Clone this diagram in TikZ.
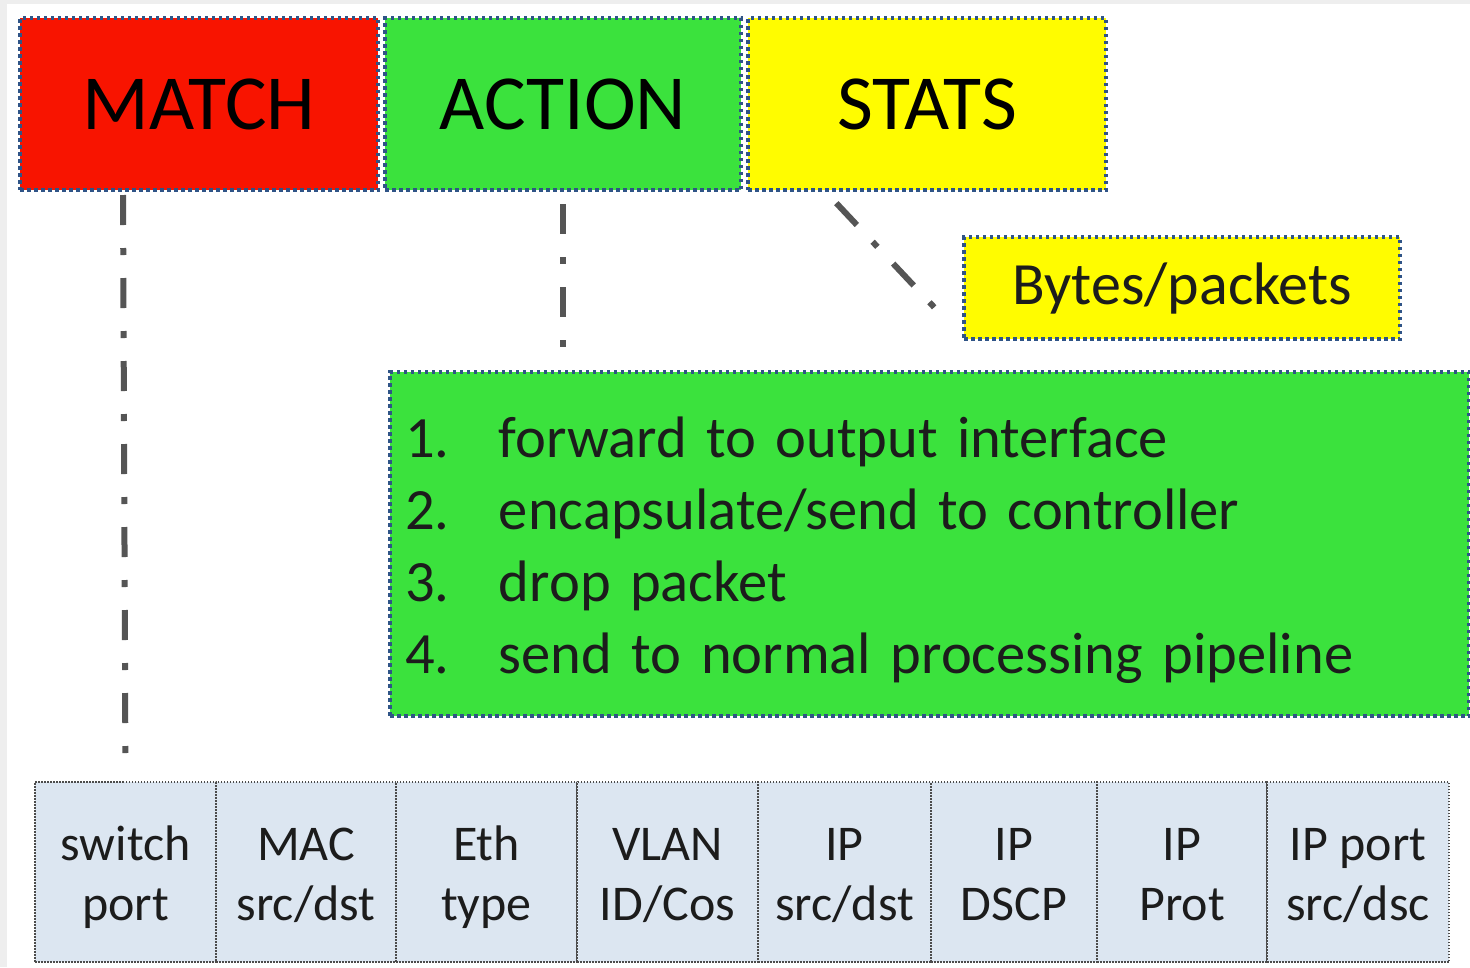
\documentclass[tikz,border=0pt]{standalone}
\usepackage{fontspec}
\setmainfont{Carlito}

\definecolor{matchred}{HTML}{F81400}
\definecolor{actgreen}{HTML}{3BE23D}
\definecolor{statyellow}{HTML}{FFFC00}
\definecolor{cellblue}{HTML}{DCE6F1}
\definecolor{edgeblue}{HTML}{2F5487}
\definecolor{linkgray}{HTML}{555555}
\definecolor{framegray}{HTML}{EEEEEE}
\definecolor{ink}{HTML}{1C1C1C}

% struts that fix the line boxes of the multi-line labels
\newcommand\cellstrut{\rule[-12pt]{0pt}{60pt}}
\newcommand\liststrut{\rule[-15pt]{0pt}{72pt}}

\tikzset{
  dotbox/.style={draw=edgeblue, line width=3.5pt, dash pattern=on 3.5pt off 3.5pt,
    inner sep=0pt, outer sep=0pt},
  headbox/.style={dotbox, minimum width=#1, minimum height=172pt,
    font=\fontsize{78}{90}\selectfont, text=black},
  cellbox/.style={draw=black!70, line width=1.5pt, dash pattern=on 1.5pt off 1.5pt,
    fill=cellblue, minimum width=#1, minimum height=180pt, inner sep=0pt,
    outer sep=0pt, align=center, font=\fontsize{50}{60}\selectfont, text=ink},
  link/.style={draw=linkgray, line width=6pt,
    dash pattern=on 30pt off 23pt on 7pt off 23pt}
}

\begin{document}
\begin{tikzpicture}[x=1pt, y=-1pt]
  \useasboundingbox (0,0) rectangle (1470,967);
  \fill[framegray] (0,0) rectangle (1470,967);
  \fill[white] (7,4) rectangle (1470,967);

  % flow entry: match / action / stats
  \node[headbox=358pt, fill=matchred]   (match)  at (199,104) {MATCH};
  \node[headbox=356pt, fill=actgreen]   (action) at (563,104) {ACTION};
  \node[headbox=358pt, fill=statyellow] (stats)  at (927,104) {STATS};

  % counters
  \node[dotbox, fill=statyellow, minimum width=436pt, minimum height=102pt,
        font=\fontsize{60}{72}\selectfont, text=ink] (bytes) at (1182,288) {Bytes/packets};

  % possible actions
  \node[dotbox, fill=actgreen, minimum height=344pt, text width=1049pt,
        inner xsep=15pt, inner ysep=0pt, align=left,
        font=\fontsize{58.5}{72}\selectfont, text=ink] (acts) at (929.5,544)
    {\makebox[94pt][l]{1.}forward to output interface\liststrut\\
     \makebox[94pt][l]{2.}encapsulate/send to controller\liststrut\\
     \makebox[94pt][l]{3.}drop packet\liststrut\\
     \makebox[94pt][l]{4.}send to normal processing pipeline\liststrut};

  % header fields that can be matched
  \node[cellbox=181pt] (c1) at (125.5,872) {switch\cellstrut\\port\cellstrut};
  \node[cellbox=180pt] (c2) at (306,872)   {MAC\cellstrut\\src/dst\cellstrut};
  \node[cellbox=181pt] (c3) at (486.5,872) {Eth\cellstrut\\type\cellstrut};
  \node[cellbox=181pt] (c4) at (667.5,872) {VLAN\cellstrut\\ID/Cos\cellstrut};
  \node[cellbox=173pt] (c5) at (844.5,872) {IP\cellstrut\\src/dst\cellstrut};
  \node[cellbox=166pt] (c6) at (1014,872)  {IP\cellstrut\\DSCP\cellstrut};
  \node[cellbox=170pt] (c7) at (1182,872)  {IP\cellstrut\\Prot\cellstrut};
  \node[cellbox=182pt] (c8) at (1358,872)  {IP port\cellstrut\\src/dsc\cellstrut};

  % dash-dot connectors
  \draw[link, shorten <=5pt, shorten >=29pt]
    ([xshift=-2.5pt]c1.north |- match.south) -- (c1.north);
  \draw[link, shorten <=14pt, shorten >=25pt]
    (action.south) -- (action.south |- acts.north);
  \draw[link, shorten <=18pt, shorten >=43.5pt]
    ([xshift=76pt]stats.south west) -- (bytes.south west);
\end{tikzpicture}
\end{document}
